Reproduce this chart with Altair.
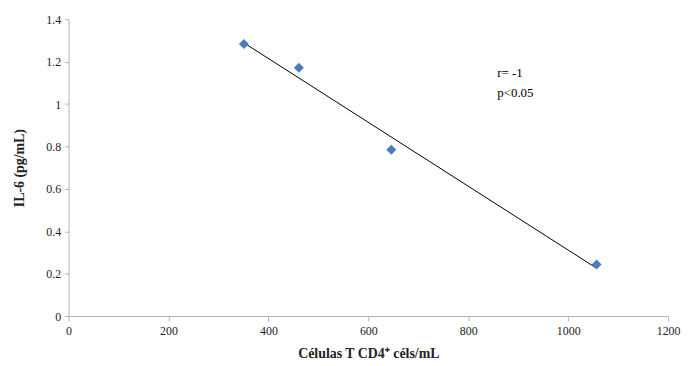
import altair as alt
import pandas as pd

cd4 = [351, 461, 646, 1057]
il6 = [1.283, 1.171, 0.784, 0.243]
ann_x = [858, 858]
ann_y = [1.148, 1.050]
ann_text = ["r= -1", "p<0.05"]

df = pd.DataFrame({"x": cd4, "y": il6})
ann = pd.DataFrame({"x": ann_x, "y": ann_y, "t": ann_text})

FONT = "Liberation Serif"

xs = alt.Scale(domain=[0, 1200], nice=False)
ys = alt.Scale(domain=[0, 1.4], nice=False)

xaxis = alt.Axis(values=[0, 200, 400, 600, 800, 1000, 1200], grid=False,
                 format="d", labelFlush=False,
                 title="Células T CD4⁺ céls/mL", titleFontWeight="bold",
                 titleFontSize=14, titlePadding=10, labelFontSize=12,
                 tickSize=5, labelPadding=5)
yaxis = alt.Axis(values=[0, 0.2, 0.4, 0.6, 0.8, 1, 1.2, 1.4], grid=False,
                 format=".1~f", title="IL-6  (pg/mL)", titleFontWeight="bold",
                 titleFontSize=14, titlePadding=19, labelFontSize=12,
                 tickSize=4, labelPadding=4)

pts = alt.Chart(df).mark_point(shape="diamond", filled=True, size=100,
                               color="#4a7ebb", opacity=1).encode(
    x=alt.X("x:Q", scale=xs, axis=xaxis),
    y=alt.Y("y:Q", scale=ys, axis=yaxis),
)

line = alt.Chart(df).transform_regression("x", "y").mark_line(
    color="#000000", strokeWidth=1).encode(
    x=alt.X("x:Q", scale=xs),
    y=alt.Y("y:Q", scale=ys),
)

txt = alt.Chart(ann).mark_text(align="left", baseline="middle", fontSize=13,
                               font=FONT, color="#000000").encode(
    x=alt.X("x:Q", scale=xs),
    y=alt.Y("y:Q", scale=ys),
    text="t:N",
)

chart = alt.layer(line, pts, txt).properties(
    width=604, height=299,
    autosize=alt.AutoSizeParams(type="none"),
    padding={"left": 61, "top": 10, "right": 15, "bottom": 47},
).configure_view(stroke=None).configure_axis(
    domainColor="#b3b3b3", tickColor="#b3b3b3", labelColor="#222222",
    titleColor="#222222", labelFont=FONT, titleFont=FONT,
)

chart.save("out.html", embed_options={"renderer": "svg", "actions": False})
